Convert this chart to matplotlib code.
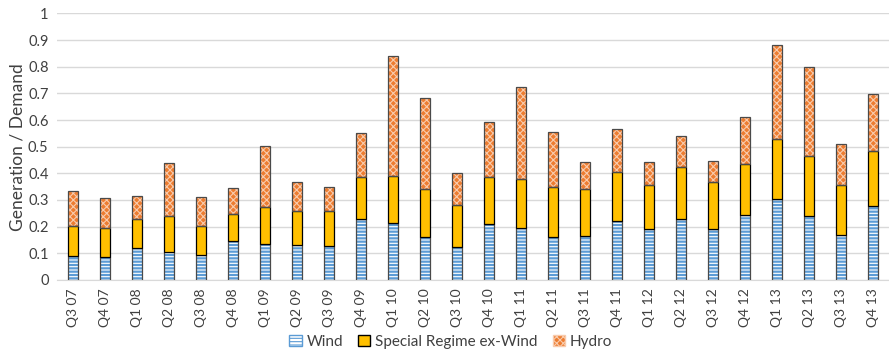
import matplotlib
matplotlib.use('Agg')
import matplotlib.pyplot as plt
import numpy as np
from matplotlib.patches import Patch

plt.rcParams['font.family'] = ['Lato', 'DejaVu Sans']

quarters = ['Q3 07', 'Q4 07', 'Q1 08', 'Q2 08', 'Q3 08', 'Q4 08', 'Q1 09', 'Q2 09',
            'Q3 09', 'Q4 09', 'Q1 10', 'Q2 10', 'Q3 10', 'Q4 10', 'Q1 11', 'Q2 11',
            'Q3 11', 'Q4 11', 'Q1 12', 'Q2 12', 'Q3 12', 'Q4 12', 'Q1 13', 'Q2 13',
            'Q3 13', 'Q4 13']

wind = [0.090, 0.086, 0.119, 0.105, 0.095, 0.145, 0.136, 0.130, 0.126, 0.228,
        0.214, 0.160, 0.123, 0.211, 0.194, 0.161, 0.164, 0.221, 0.190, 0.228,
        0.190, 0.243, 0.303, 0.239, 0.168, 0.278]
special_regime = [0.114, 0.109, 0.111, 0.134, 0.109, 0.104, 0.137, 0.128, 0.132, 0.160,
                  0.175, 0.181, 0.157, 0.174, 0.184, 0.189, 0.176, 0.184, 0.165, 0.195,
                  0.178, 0.192, 0.226, 0.226, 0.190, 0.206]
hydro = [0.130, 0.114, 0.086, 0.199, 0.106, 0.095, 0.230, 0.108, 0.090, 0.163,
         0.450, 0.343, 0.123, 0.209, 0.345, 0.206, 0.104, 0.161, 0.086, 0.116,
         0.077, 0.178, 0.352, 0.333, 0.153, 0.214]

BLUE = '#5B9BD5'
GOLD = '#FFC000'
ORANGE = '#ED7D31'
HYDRO_HATCH = '#F8CBAD'
OUTLINE = '#4a4a4a'

x = np.arange(len(quarters))
wind = np.array(wind)
sr = np.array(special_regime)
hy = np.array(hydro)
w = 0.31

fig = plt.figure(figsize=(8.89, 3.53), dpi=100)
ax = fig.add_axes([0.064, 0.207, 0.936, 0.755])

# wind: white with blue horizontal stripes
plt.rcParams['hatch.linewidth'] = 1.6
ax.bar(x, wind, w, color='white', edgecolor=BLUE, hatch='-----', linewidth=0, zorder=3)
ax.bar(x, wind, w, fill=False, edgecolor=OUTLINE, linewidth=0.9, zorder=4)
# special regime ex-wind
ax.bar(x, sr, w, bottom=wind, color=GOLD, edgecolor='black', linewidth=0.9, zorder=4)
# hydro: orange with light lattice
plt.rcParams['hatch.linewidth'] = 0.8
ax.bar(x, hy, w, bottom=wind + sr, color=ORANGE, edgecolor=HYDRO_HATCH, hatch='xxxxx',
       linewidth=0, zorder=3)
ax.bar(x, hy, w, bottom=wind + sr, fill=False, edgecolor=OUTLINE, linewidth=0.9, zorder=4)

ax.set_xlim(-0.5, len(quarters) - 0.5)
ax.set_ylim(0, 1)
yt = np.round(np.arange(0, 1.01, 0.1), 1)
ax.set_yticks(yt)
ax.set_yticklabels(['0' if v == 0 else ('1' if v == 1 else f'{v:g}') for v in yt],
                   fontsize=10.5, color='#404040')
ax.set_xticks(x)
ax.set_xticklabels(quarters, rotation=90, fontsize=10, color='#404040')
ax.tick_params(length=0, pad=6)
ax.grid(axis='y', color='#d9d9d9', linewidth=1, zorder=0)
ax.set_axisbelow(True)
for s in ['top', 'right', 'left']:
    ax.spines[s].set_visible(False)
ax.spines['bottom'].set_color('#d9d9d9')
ax.set_ylabel('Generation / Demand', fontsize=12.5, color='#404040', labelpad=2)

handles = [
    Patch(facecolor='white', edgecolor=BLUE, hatch='-----', label='Wind'),
    Patch(facecolor=GOLD, edgecolor='black', label='Special Regime ex-Wind'),
    Patch(facecolor=ORANGE, edgecolor=HYDRO_HATCH, hatch='xxxxx', label='Hydro'),
]
fig.legend(handles=handles, loc='center', bbox_to_anchor=(0.507, 0.032), ncol=3,
           frameon=False, fontsize=11, handlelength=0.8, handleheight=0.8,
           handletextpad=0.3, columnspacing=1.0, labelcolor='#404040')

fig.savefig('out.png', dpi=100)
